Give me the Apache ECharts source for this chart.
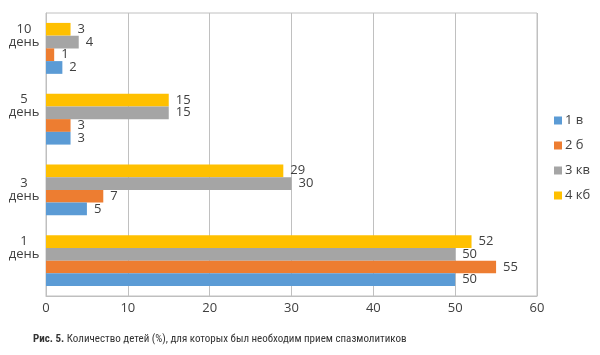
<!DOCTYPE html>
<html>
<head>
<meta charset="utf-8">
<script src="https://cdn.jsdelivr.net/npm/echarts@6/dist/echarts.min.js"></script>
<style>html,body{margin:0;padding:0;background:#fff}#c{width:600px;height:355px}</style>
</head>
<body>
<div id="c"></div>
<script>
const categories = ['1\nдень', '3\nдень', '5\nдень', '10\nдень'];
const seriesNames = ['1 в', '2 б', '3 кв', '4 кб'];
const s1 = [50, 5, 3, 2];
const s2 = [55, 7, 3, 1];
const s3 = [50, 30, 15, 4];
const s4 = [52, 29, 15, 3];
const xTicks = [0, 10, 20, 30, 40, 50, 60];
const colors = ['#5B9BD5', '#ED7D31', '#A5A5A5', '#FFC000'];
// whether each category label sits raised in its band (style only)
const labelRaised = [true, false, true, true];

const values = [s1, s2, s3, s4];
const chart = echarts.init(document.getElementById('c'));
const font = '"Open Sans", "Noto Sans", sans-serif';
const capFont = '"Roboto Condensed", "DejaVu Sans Condensed", Roboto, sans-serif';
// ECharts places the first series at the top for a category y axis, so add them in reverse
const order = [3, 2, 1, 0];
chart.setOption({
  animation: false,
  textStyle: { fontFamily: font },
  title: {
    text: '{b|Рис. 5.} Количество детей (%), для которых был необходим прием спазмолитиков',
    left: 28, top: 329,
    textStyle: {
      fontFamily: capFont,
      fontSize: 11, fontWeight: 'normal', color: '#333',
      rich: { b: { fontFamily: capFont, fontSize: 11, fontWeight: 'bold', color: '#333' } }
    }
  },
  legend: {
    orient: 'vertical', left: 549, top: 109,
    itemWidth: 8, itemHeight: 8, itemGap: 12,
    icon: 'rect',
    data: seriesNames,
    textStyle: { fontFamily: font, fontSize: 13, color: '#404040', padding: [0, 0, 0, -2] }
  },
  grid: {
    left: 46, right: 63, top: 13, bottom: 59,
    show: true, borderColor: '#c0c0c0', borderWidth: 1
  },
  xAxis: {
    type: 'value', min: 0, max: 60, interval: 10,
    axisLine: { show: true, lineStyle: { color: '#bfbfbf' } },
    axisTick: { show: false },
    splitLine: { show: true, lineStyle: { color: '#c0c0c0' } },
    axisLabel: { fontFamily: font, fontSize: 13, color: '#404040', margin: 6,
      formatter: v => xTicks.includes(v) ? String(v) : '' }
  },
  yAxis: {
    type: 'category', data: categories,
    axisLine: { show: true, lineStyle: { color: '#bfbfbf' } },
    axisTick: { show: false },
    axisLabel: {
      fontFamily: font, fontSize: 13, color: '#404040', align: 'center', margin: 22,
      lineHeight: 13,
      formatter: (v, i) => labelRaised[i] ? v + '\n \n ' : v
    }
  },
  series: order.map(i => ({
    name: seriesNames[i], type: 'bar', data: values[i],
    barGap: '0%', barCategoryGap: '28%',
    itemStyle: { color: colors[i] },
    label: { show: true, position: 'right', distance: 7, fontFamily: font, fontSize: 13, color: '#404040' }
  }))
});
</script>
</body>
</html>
